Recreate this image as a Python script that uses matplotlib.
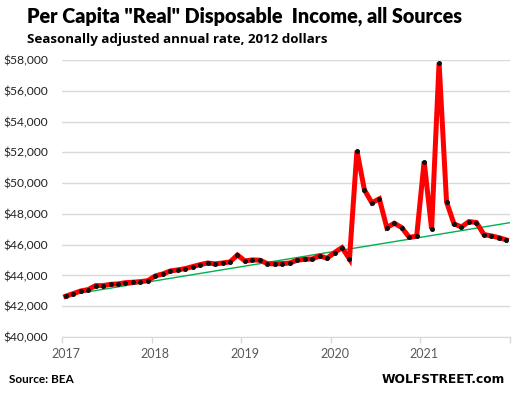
import matplotlib
matplotlib.use("Agg")
import matplotlib.pyplot as plt
from matplotlib.ticker import FuncFormatter

years = ["2017", "2018", "2019", "2020", "2021"]
values = [42650, 42820, 42990, 43080, 43340, 43340, 43420, 43450, 43530, 43560, 43600, 43660,
          43970, 44100, 44290, 44360, 44445, 44575, 44705, 44810, 44750, 44810, 44880, 45330,
          44940, 45010, 44990, 44770, 44750, 44770, 44810, 44990, 45050, 45070, 45270, 45120,
          45490, 45810, 45070, 52100, 49560, 48720, 48980, 47110, 47390, 47110, 46480, 46550,
          51400, 47020, 57820, 48780, 47350, 47150, 47500, 47440, 46660, 46570, 46460, 46310]
trend_months = [0, 60]
trend_values = [42700, 47470]
yticks = list(range(40000, 58001, 2000))

W, H = 514, 394
fig = plt.figure(figsize=(W / 100, H / 100), dpi=100)
ax = fig.add_axes([62 / W, 1 - 337 / H, (510 - 62) / W, (337 - 60) / H])

x = list(range(len(values)))
ax.plot(trend_months, trend_values, color="#00b050", lw=1.0, zorder=2)
ax.plot(x, values, color="#ff0000", lw=3.6, zorder=3, solid_joinstyle="miter")
ax.plot(x, values, ls="none", marker="o", ms=2.6, color="#111111", zorder=4)

ax.set_xlim(-0.5, 59.5)
ax.set_ylim(40000, 58000)
ax.set_yticks(yticks)
ax.yaxis.set_major_formatter(FuncFormatter(lambda v, p: "${:,.0f}".format(v)))
ax.grid(axis="y", color="#d9d9d9", lw=1.0)
ax.set_axisbelow(True)

ax.set_xticks([-0.5 + 12 * k for k in range(6)])
ax.set_xticklabels([])
ax.set_xticks([12 * k for k in range(len(years))], minor=True)
ax.set_xticklabels(years, minor=True)
ax.tick_params(axis="x", which="major", length=4, color="#d9d9d9", width=1)
ax.tick_params(axis="x", which="minor", length=0, pad=8, labelsize=9, labelcolor="#595959")
ax.tick_params(axis="y", length=0, pad=10, labelsize=8.7, labelcolor="#222222")
for lab in ax.get_xticklabels(minor=True) + ax.get_yticklabels():
    lab.set_family("Lato")
for s in ["top", "right", "left"]:
    ax.spines[s].set_visible(False)
ax.spines["bottom"].set_color("#d9d9d9")

fig.text(27 / W, 1 - 23 / H, 'Per Capita "Real" Disposable  Income, all Sources',
         fontsize=14.2, fontweight="heavy", family="Lato", ha="left", va="baseline")
fig.text(27 / W, 1 - 43 / H, "Seasonally adjusted annual rate, 2012 dollars",
         fontsize=9.6, fontweight="bold", family="Open Sans", ha="left", va="baseline")
fig.text(9 / W, 1 - 383 / H, "Source: BEA", fontsize=8.5, fontweight="bold",
         family="Lato", ha="left", va="baseline")
fig.text(505 / W, 1 - 383 / H, "WOLFSTREET.com", fontsize=8.8, fontweight="bold",
         family="DejaVu Sans", ha="right", va="baseline")

fig.savefig("out.png", dpi=100)
